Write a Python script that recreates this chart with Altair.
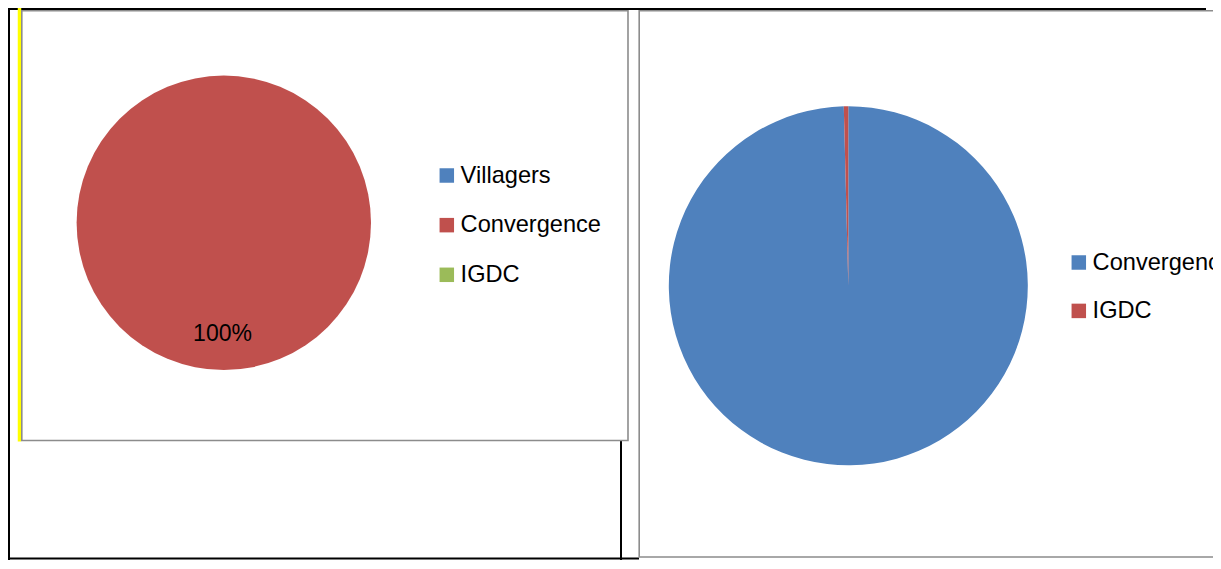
import altair as alt
import pandas as pd

# ---- data ----
left_categories = ["Villagers", "Convergence", "IGDC"]
left_values = [0, 100, 0]
left_colors = ["#4F81BD", "#C0504D", "#9BBB59"]

right_categories = ["Convergence", "IGDC"]
right_values = [99.6, 0.4]
right_colors = ["#4F81BD", "#C0504D"]

# ---- layout ----
W, H = 1205, 552
OFF = 8  # page margin: reference pixel -> chart pixel


def px(v):
    return v - OFF


FONT = "Liberation Sans"
GRAY = "#8C8C8C"

left_df = pd.DataFrame({"category": left_categories, "value": left_values,
                        "order": list(range(len(left_categories)))})
right_df = pd.DataFrame({"category": right_categories, "value": right_values,
                         "order": list(range(len(right_categories)))})

dummy = alt.Data(values=[{"d": 1}])


def rule(x, x2, y, y2, color, width):
    return alt.Chart(dummy).mark_rule(color=color, strokeWidth=width).encode(
        x=alt.value(x), x2=alt.value(x2), y=alt.value(y), y2=alt.value(y2))


def box(x, x2, y, y2):
    return alt.Chart(dummy).mark_rect(fill="white", stroke=GRAY, strokeWidth=1.6).encode(
        x=alt.value(x), x2=alt.value(x2), y=alt.value(y), y2=alt.value(y2))


decor = [
    rule(1, 1, 0, H, "black", 2),                    # outer left black line
    rule(0, px(1206), 1, 1, "black", 2),             # outer top black line
    rule(px(621), px(621), px(440), H, "black", 2),  # middle black line
    rule(0, px(639), H - 1.5, H - 1.5, "black", 2),  # bottom black line
    rule(px(19.5), px(19.5), 0, px(441.5), "#FFFF00", 3.5),  # yellow bar
    box(px(21.8), px(628), 2.8, px(440.5)),          # left chart box
    box(px(639.2), W + 20, 2.8, H - 3),              # right chart box
]


def legend(x, y, row_pad):
    return alt.Legend(
        title=None, orient="none", legendX=x, legendY=y, padding=0,
        symbolType="square", symbolSize=210, symbolStrokeWidth=0, symbolOpacity=1,
        labelFont=FONT, labelFontSize=23.6, labelColor="black", labelOffset=2,
        rowPadding=row_pad, labelLimit=400)


left_pie = alt.Chart(left_df).mark_arc(radius=147.2).encode(
    theta=alt.Theta("value:Q", stack=True),
    order=alt.Order("order:Q"),
    color=alt.Color("category:N",
                    scale=alt.Scale(domain=left_categories, range=left_colors),
                    legend=legend(px(435), px(175.5) - 11.8, 24.65)),
    x=alt.value(px(223.8)), y=alt.value(px(222.8)),
)

left_label = alt.Chart(left_df).transform_joinaggregate(
    total="sum(value)"
).transform_calculate(
    pct="datum.value / datum.total"
).transform_filter(
    "datum.value > 0"
).mark_text(font=FONT, fontSize=23, color="black", baseline="middle", align="center").encode(
    text=alt.Text("pct:Q", format=".0%"),
    x=alt.value(px(222.5)), y=alt.value(px(334)),
)

right_pie = alt.Chart(right_df).mark_arc(radius=179.5).encode(
    theta=alt.Theta("value:Q", stack=True),
    order=alt.Order("order:Q"),
    color=alt.Color("category:N",
                    scale=alt.Scale(domain=right_categories, range=right_colors),
                    legend=legend(px(1067), px(262.5) - 11.8, 23.4)),
    x=alt.value(px(848.3)), y=alt.value(px(285.8)),
)

chart = alt.layer(*decor, left_pie, left_label, right_pie).resolve_scale(
    theta="independent", color="independent"
).properties(
    width=W, height=H, padding=0,
    autosize=alt.AutoSizeParams(type="none"),
).configure_view(stroke="transparent")

chart.save("out.html", embed_options={"renderer": "svg", "actions": False})
